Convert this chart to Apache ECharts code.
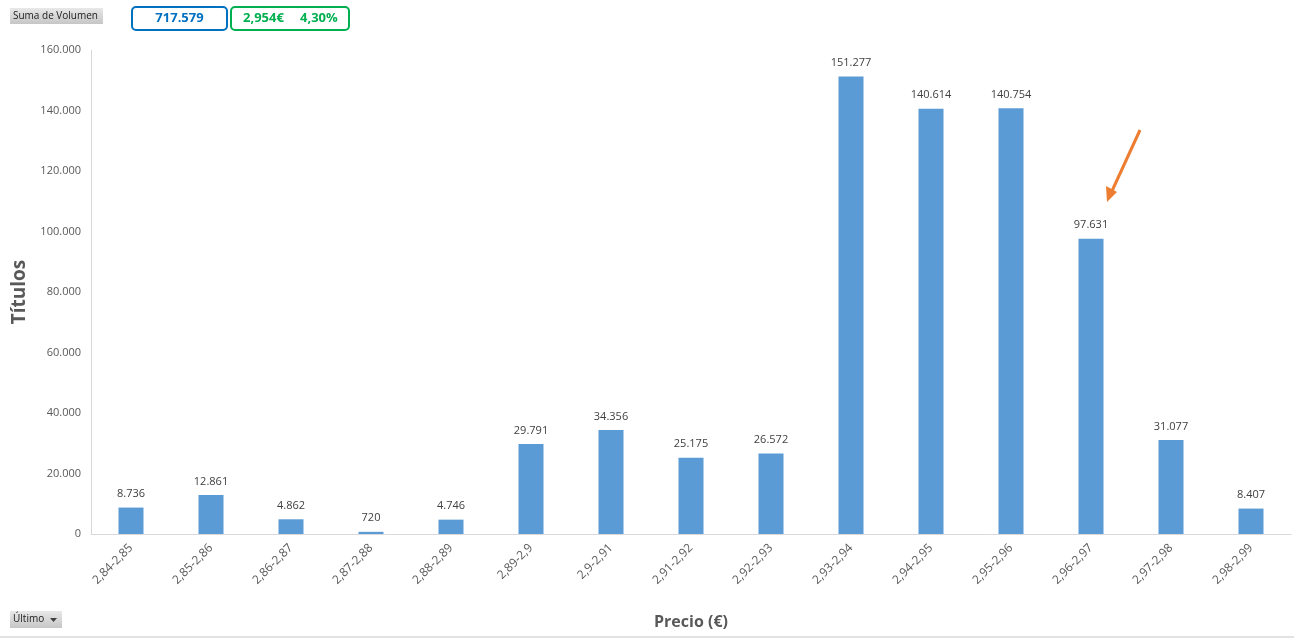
<!DOCTYPE html>
<html>
<head>
<meta charset="utf-8">
<script src="https://cdn.jsdelivr.net/npm/echarts@6/dist/echarts.min.js"></script>
<style>
  html, body { margin: 0; padding: 0; background: #fff; }
  #chart { width: 1294px; height: 638px; }
</style>
</head>
<body>
<div id="chart"></div>
<script>
// rangos de precio
const categories = ['2,84-2,85', '2,85-2,86', '2,86-2,87', '2,87-2,88', '2,88-2,89', '2,89-2,9', '2,9-2,91',
  '2,91-2,92', '2,92-2,93', '2,93-2,94', '2,94-2,95', '2,95-2,96', '2,96-2,97', '2,97-2,98', '2,98-2,99'];
const volumes = [8736, 12861, 4862, 720, 4746, 29791, 34356, 25175, 26572, 151277, 140614, 140754, 97631, 31077, 8407];
const totalVolume = '717.579';
const lastPrice = '2,954€';
const change = '4,30%';

const font = 'Open Sans';
const fmt = v => String(v).replace(/\B(?=(\d{3})+(?!\d))/g, '.');

const chart = echarts.init(document.getElementById('chart'));

const btnFill = () => new echarts.graphic.LinearGradient(0, 0, 0, 1, [
  { offset: 0, color: '#e8e8e8' }, { offset: 1, color: '#c6c6c6' }
]);

chart.setOption({
  animation: false,
  textStyle: { fontFamily: font },
  grid: { left: 91, right: 3, top: 50, bottom: 104 },
  xAxis: {
    type: 'category',
    data: categories,
    axisLine: { lineStyle: { color: '#d9d9d9' } },
    axisTick: { show: false },
    axisLabel: { rotate: 45, fontSize: 12, color: '#595959', margin: 12, interval: 0 },
    name: 'Precio (€)',
    nameLocation: 'middle',
    nameGap: 80,
    nameTextStyle: { fontSize: 16, fontWeight: 'bold', color: '#595959' }
  },
  yAxis: {
    type: 'value',
    min: 0,
    max: 160000,
    interval: 20000,
    axisLine: { show: true, lineStyle: { color: '#d9d9d9' } },
    splitLine: { show: false },
    axisLabel: { fontSize: 11, color: '#595959', margin: 10, formatter: fmt },
    name: 'Títulos',
    nameLocation: 'middle',
    nameGap: 62,
    nameTextStyle: { fontSize: 19, fontWeight: 'bold', color: '#595959' }
  },
  series: [{
    type: 'bar',
    data: volumes,
    barWidth: 25,
    itemStyle: { color: '#5b9bd5' },
    label: {
      show: true,
      position: 'top',
      distance: 8,
      fontSize: 11,
      color: '#404040',
      formatter: p => fmt(p.value)
    }
  }],
  graphic: [
    // botones del gráfico dinámico
    {
      type: 'group', left: 10, top: 8,
      children: [
        { type: 'rect', shape: { x: 0, y: 0, width: 93, height: 16 }, style: { fill: btnFill() } },
        { type: 'text', x: 3, y: 3, style: { text: 'Suma de Volumen', font: '10px ' + font, fill: '#1a1a1a' } }
      ]
    },
    {
      type: 'group', left: 131, top: 6,
      children: [
        { type: 'rect', shape: { x: 0, y: 0, width: 95, height: 23, r: 4 },
          style: { fill: '#fff', stroke: '#0070c0', lineWidth: 2 } },
        { type: 'text', x: 47.5, y: 11.5, style: { text: totalVolume, font: 'bold 13px ' + font, fill: '#0070c0', align: 'center', verticalAlign: 'middle' } }
      ]
    },
    {
      type: 'group', left: 230, top: 6,
      children: [
        { type: 'rect', shape: { x: 0, y: 0, width: 118, height: 23, r: 4 },
          style: { fill: '#fff', stroke: '#00b050', lineWidth: 2 } },
        { type: 'text', x: 12, y: 11.5, style: { text: lastPrice, font: 'bold 13px ' + font, fill: '#00b050', verticalAlign: 'middle' } },
        { type: 'text', x: 69, y: 11.5, style: { text: change, font: 'bold 13px ' + font, fill: '#00b050', verticalAlign: 'middle' } }
      ]
    },
    {
      type: 'group', left: 10, top: 611,
      children: [
        { type: 'rect', shape: { x: 0, y: 0, width: 52, height: 17 }, style: { fill: btnFill() } },
        { type: 'text', x: 3, y: 3, style: { text: 'Último', font: '10px ' + font, fill: '#1a1a1a' } },
        { type: 'polygon', shape: { points: [[40, 7], [47, 7], [43.5, 11]] }, style: { fill: '#404040' } }
      ]
    },
    // línea inferior
    { type: 'line', shape: { x1: 0, y1: 637, x2: 1294, y2: 637 }, style: { stroke: '#d9d9d9', lineWidth: 1.5 } },
    // flecha naranja
    { type: 'line', shape: { x1: 1140, y1: 130, x2: 1112, y2: 191 }, style: { stroke: '#ed7d31', lineWidth: 3 } },
    { type: 'polygon', shape: { points: [[1107, 202], [1106, 186], [1117, 192]] }, style: { fill: '#ed7d31' } }
  ]
});
</script>
</body>
</html>
